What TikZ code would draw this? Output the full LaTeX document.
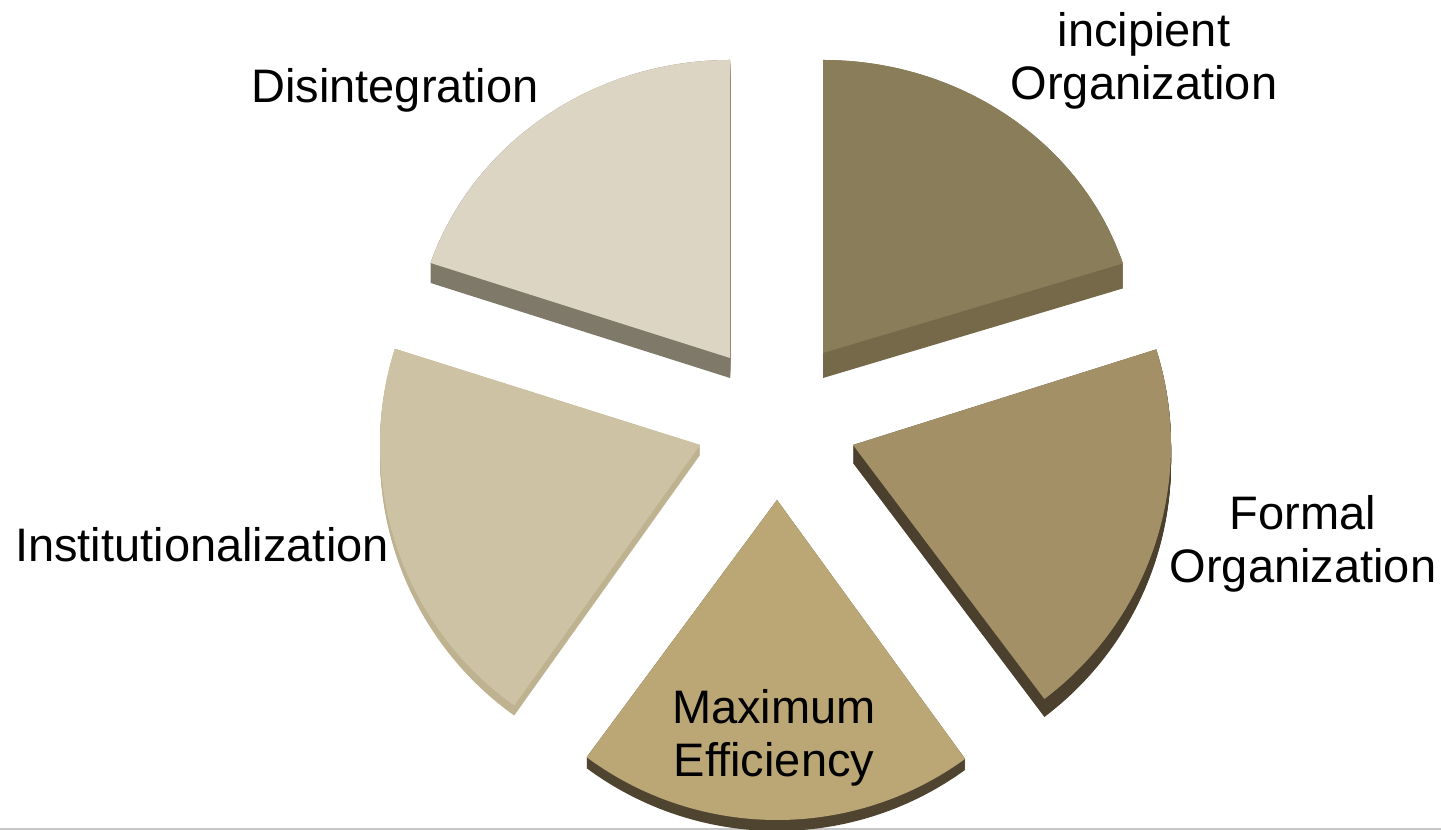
\documentclass[tikz,border=0pt]{standalone}
\usepackage{fontspec}
\setmainfont{Liberation Sans}
\definecolor{topA}{HTML}{DDD5C4}
\definecolor{sideA}{HTML}{7E7969}
\definecolor{topB}{HTML}{8A7D5A}
\definecolor{sideB}{HTML}{75694A}
\definecolor{topC}{HTML}{A39067}
\definecolor{sideC}{HTML}{4A402D}
\definecolor{topD}{HTML}{BBA776}
\definecolor{sideD}{HTML}{4E4430}
\definecolor{topE}{HTML}{CDC2A3}
\definecolor{sideE}{HTML}{BFB291}
\tikzset{
  stage/.style={
    font=\fontsize{23.5}{26.5}\selectfont,
    align=center, anchor=base, inner sep=0pt
  },
  rule/.style={fill=black!22}
}
% apex x, apex y, x radius, y radius, start, end, depth, top colour, side colour
\newcommand{\pieslice}[9]{%
  \foreach \t in {0,...,#7}{
    \fill[#9, shift={(0,-\t)}] (#1,#2) -- ++(#5:#3 and #4)
      arc[start angle=#5, end angle=#6, x radius=#3, y radius=#4] -- cycle;
  }
  \fill[#8] (#1,#2) -- ++(#5:#3 and #4)
    arc[start angle=#5, end angle=#6, x radius=#3, y radius=#4] -- cycle;
}

\begin{document}
\begin{tikzpicture}[x=0.5pt, y=0.5pt]
  \useasboundingbox (0,0) rectangle (1441,830);
  \fill[rule] (0,0) rectangle (1441,2);

  % slices
  \pieslice{730}{472}{316}{298}{90}{161.4}{20}{topA}{sideA}
  \pieslice{823}{477}{315}{293}{17.8}{90}{25}{topB}{sideB}
  \pieslice{853}{385}{318}{318}{-53}{17.5}{18}{topC}{sideC}
  \pieslice{777}{330}{320}{320}{233.5}{306}{11}{topD}{sideD}
  % thin shadow under the outer rim of the left slice
  \fill[sideD!80] (700,385) ++(200:320 and 320)
    arc[start angle=200, end angle=234.5, radius=320] -- ++(0,-4)
    arc[start angle=234.5, end angle=200, radius=320] -- cycle;
  \pieslice{700}{385}{320}{320}{162.5}{234.5}{10}{topE}{sideE}

  % labels
  \node[stage] (disint) at (395,727) {Disintegration};
  \node[stage] (incip) at (1144,730) {incipient\\Organization};
  \node[stage] (formal) at (1303,247) {Formal\\Organization};
  \node[stage] (maxeff) at (774,53) {Maximum\\Efficiency};
  \node[stage] (instit) at (202,268) {Institutionalization};
\end{tikzpicture}
\end{document}
